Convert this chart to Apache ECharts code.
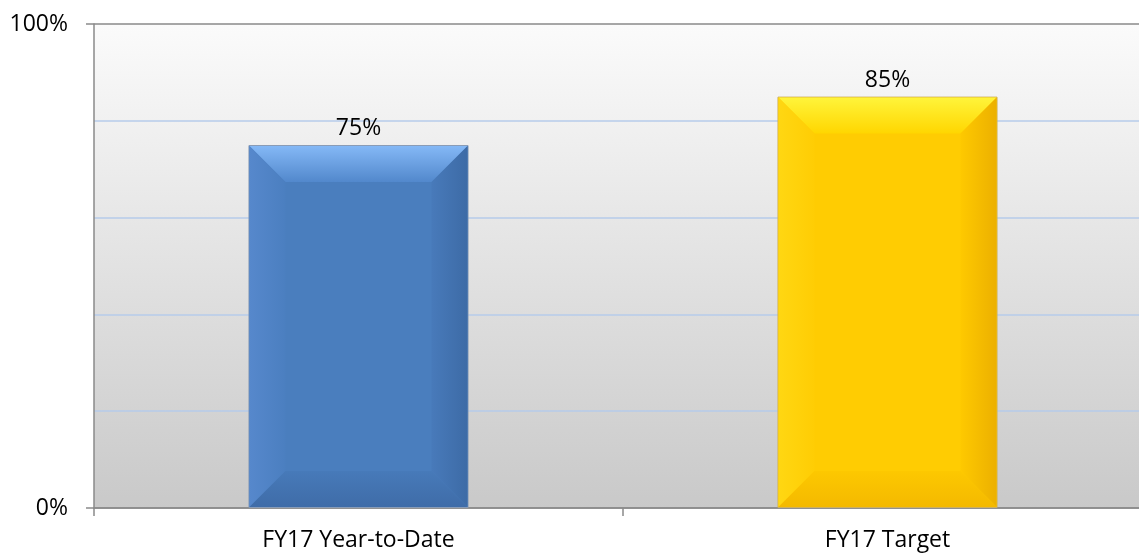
<!DOCTYPE html>
<html>
<head>
<meta charset="utf-8">
<script src="https://cdn.jsdelivr.net/npm/echarts@6/dist/echarts.min.js"></script>
<style>
html,body{margin:0;padding:0;background:#fff;overflow:hidden;}
#chart{width:1152px;height:556px;}
</style>
</head>
<body>
<div id="chart"></div>
<script>
var categories = ['FY17 Year-to-Date', 'FY17 Target'];
var values = [75, 85];
var yTickLabels = ['0%', '100%'];

var FONT = '"Open Sans", "Noto Sans", sans-serif';
var FS = 23;
var palettes = [
  {body:'#4a7ebe', border:'#8a9cb6',
   top:['#84b8f6','#5288cc'], left:['#5688cc','#4b7fc0'],
   right:['#487aba','#3d6ba6'], bottom:['#477ab9','#3f6ca8']},
  {body:'#ffcc02', border:'#cdb060',
   top:['#fff43a','#ffd600'], left:['#ffd712','#ffcd04'],
   right:['#fec900','#ecb000'], bottom:['#fdc800','#f4b900']}
];
function lg(x, y, x2, y2, c) {
  return {type:'linear', x:x, y:y, x2:x2, y2:y2,
    colorStops:[{offset:0,color:c[0]},{offset:1,color:c[1]}]};
}

var chart = echarts.init(document.getElementById('chart'));
chart.setOption({
  animation: false,
  grid: {
    left: 94, top: 24, bottom: 48, right: 0,
    show: true, borderWidth: 0,
    backgroundColor: {type:'linear', x:0, y:0, x2:0, y2:1,
      colorStops:[{offset:0,color:'#fbfbfb'},{offset:1,color:'#c9c9c9'}]}
  },
  xAxis: {
    type: 'category',
    data: categories,
    boundaryGap: true,
    axisLine: {lineStyle: {color: '#8a8a8a', width: 1.5}},
    axisTick: {show: true, length: 8, alignWithLabel: false, lineStyle: {color: '#8a8a8a', width: 1.5}},
    axisLabel: {color: '#000', fontSize: FS, fontFamily: FONT, margin: 21, interval: 0}
  },
  yAxis: {
    type: 'value',
    min: 0, max: 100, interval: 100,
    axisLine: {show: true, lineStyle: {color: '#8a8a8a', width: 1.5}},
    axisTick: {show: true, length: 8, lineStyle: {color: '#8a8a8a', width: 1.5}},
    axisLabel: {color: '#000', fontSize: FS, fontFamily: FONT, margin: 26,
      formatter: function (v) { return v === 0 ? yTickLabels[0] : yTickLabels[1]; }},
    splitLine: {show: true, lineStyle: {color: '#8a8a8a', width: 1.5}},
    minorTick: {show: false, splitNumber: 5},
    minorSplitLine: {show: true, lineStyle: {color: '#b7cbea', width: 1.5}}
  },
  series: [
    {
      type: 'bar',
      data: values.map(function (v, i) {
        return {value: v, itemStyle: {color: palettes[i].body, borderColor: palettes[i].border, borderWidth: 1}};
      }),
      barWidth: '41.6%',
      z: 2,
      label: {
        show: true, position: 'top', distance: 5,
        color: '#000', fontSize: FS, fontFamily: FONT,
        formatter: function (p) { return p.value + '%'; }
      }
    },
    {
      type: 'custom',
      z: 3,
      silent: true,
      data: values.map(function (v, i) { return [i, v]; }),
      renderItem: function (params, api) {
        var ci = api.value(0), v = api.value(1);
        var p = palettes[params.dataIndex];
        var top = api.coord([ci, v]);
        var base = api.coord([ci, 0]);
        var bw = api.size([1, 0])[0] * 0.416;
        var x0 = top[0] - bw / 2 + 1, x1 = top[0] + bw / 2 - 1;
        var y0 = top[1] + 1, y1 = base[1] - 1;
        var b = 36;
        return {
          type: 'group',
          children: [
            {type: 'polygon', shape: {points: [[x0,y0],[x1,y0],[x1-b,y0+b],[x0+b,y0+b]]},
              style: {fill: lg(0,0,0,1,p.top)}},
            {type: 'polygon', shape: {points: [[x0,y0],[x0+b,y0+b],[x0+b,y1-b],[x0,y1]]},
              style: {fill: lg(0,0,1,0,p.left)}},
            {type: 'polygon', shape: {points: [[x1,y0],[x1,y1],[x1-b,y1-b],[x1-b,y0+b]]},
              style: {fill: lg(0,0,1,0,p.right)}},
            {type: 'polygon', shape: {points: [[x0,y1],[x0+b,y1-b],[x1-b,y1-b],[x1,y1]]},
              style: {fill: lg(0,0,0,1,p.bottom)}}
          ]
        };
      }
    }
  ]
});
</script>
</body>
</html>
